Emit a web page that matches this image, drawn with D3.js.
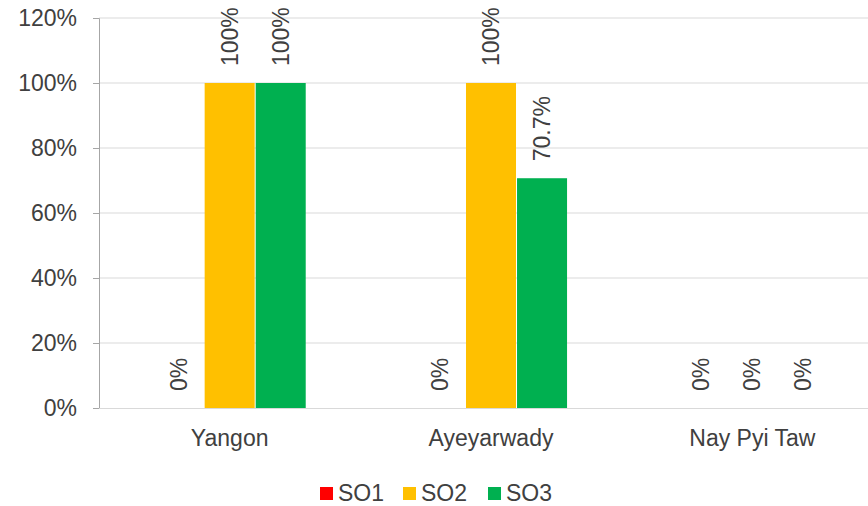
<!DOCTYPE html>
<html>
<head>
<meta charset="utf-8">
<script src="https://cdn.jsdelivr.net/npm/d3@7"></script>
<style>
body { margin: 0; background: #fff; }
text { font-family: "Liberation Sans", Arial, sans-serif; fill: #404040; }
</style>
</head>
<body>
<svg></svg>
<script>
var width = 868;
var height = 506;
var margin = {top: 18, bottom: 98, left: 99, right: -15};

var regions = ["Yangon", "Ayeyarwady", "Nay Pyi Taw"];
var seriesNames = ["SO1", "SO2", "SO3"];
var seriesColors = ["#FF0000", "#FFC000", "#00B050"];
var so1 = [0, 0, 0];
var so2 = [1, 1, 0];
var so3 = [1, 0.707, 0];
var labels = [["0%", "0%", "0%"], ["100%", "100%", "0%"], ["100%", "70.7%", "0%"]];
var yTicks = [0, 0.2, 0.4, 0.6, 0.8, 1.0, 1.2];

var series = [so1, so2, so3];

var svg = d3.select("svg").attr("width", width).attr("height", height);

var x0 = d3.scaleBand().domain(regions).range([margin.left, width - margin.right]).paddingInner(0).paddingOuter(0);
var x1 = d3.scaleBand().domain(seriesNames).range([0, x0.bandwidth()]).paddingOuter(1.07).paddingInner(0.02);
var y = d3.scaleLinear().domain([0, 1.2]).range([height - margin.bottom, margin.top]);

// gridlines
svg.append("g").selectAll("line").data(yTicks.slice(1)).enter().append("line")
  .attr("x1", margin.left).attr("x2", width)
  .attr("y1", d => y(d)).attr("y2", d => y(d))
  .attr("stroke", "#d9d9d9").attr("stroke-width", 1);

// bars
var groups = svg.append("g").selectAll("g").data(regions).enter().append("g")
  .attr("transform", d => "translate(" + x0(d) + ",0)");

groups.selectAll("rect").data((d, i) => seriesNames.map((s, j) => ({s: s, v: series[j][i], c: seriesColors[j]})))
  .enter().append("rect")
  .attr("x", d => x1(d.s))
  .attr("width", x1.bandwidth())
  .attr("y", d => y(d.v))
  .attr("height", d => y(0) - y(d.v))
  .attr("fill", d => d.c);

groups.selectAll("text").data((d, i) => seriesNames.map((s, j) => ({s: s, v: series[j][i], t: labels[j][i]})))
  .enter().append("text")
  .attr("transform", d => "translate(" + (x1(d.s) + x1.bandwidth() / 2 + 8) + "," + (y(d.v) - 17) + ") rotate(-90)")
  .attr("text-anchor", "start")
  .style("font-size", "23px")
  .text(d => d.t);

// y axis
var yAxis = d3.axisLeft(y).tickValues(yTicks).tickFormat(d3.format(".0%")).tickSize(6).tickPadding(16);
var gy = svg.append("g").attr("transform", "translate(" + margin.left + ",0)").call(yAxis);
gy.select(".domain").attr("stroke", "#a6a6a6");
gy.selectAll(".tick line").attr("stroke", "#a6a6a6");
gy.selectAll(".tick text").style("font-size", "23px").attr("fill", "#404040").attr("font-family", "Liberation Sans, Arial, sans-serif");

// x axis
var xAxis = d3.axisBottom(x0).tickSize(0).tickPadding(22);
var gx = svg.append("g").attr("transform", "translate(0," + y(0) + ")").call(xAxis);
gx.select(".domain").attr("stroke", "#d9d9d9").attr("d", "M" + margin.left + ",0.5H" + width);
gx.selectAll(".tick text").style("font-size", "23px").attr("fill", "#404040").attr("font-family", "Liberation Sans, Arial, sans-serif");

// legend
var legendX = [320, 403, 488];
var legend = svg.append("g").selectAll("g").data(seriesNames).enter().append("g")
  .attr("transform", (d, i) => "translate(" + legendX[i] + ",487)");
legend.append("rect").attr("width", 13).attr("height", 13).attr("fill", (d, i) => seriesColors[i]);
legend.append("text").attr("x", 18).attr("y", 14).style("font-size", "23px").text(d => d);
</script>
</body>
</html>
